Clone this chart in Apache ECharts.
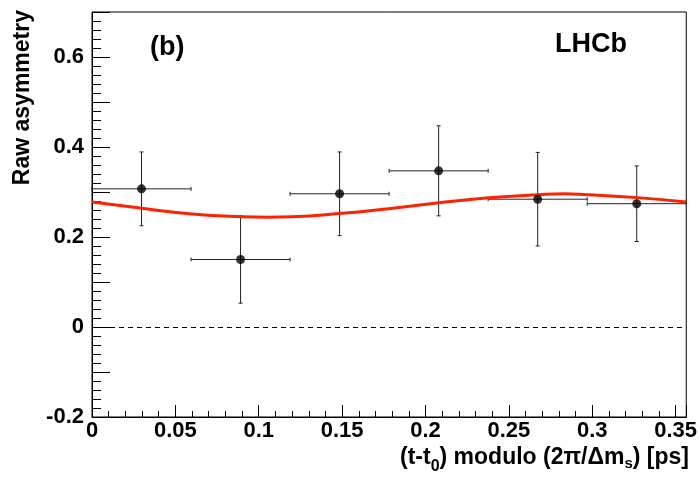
<!DOCTYPE html>
<html>
<head>
<meta charset="utf-8">
<script src="https://cdn.jsdelivr.net/npm/echarts@6/dist/echarts.min.js"></script>
<style>html,body{margin:0;padding:0;background:#fff}#c{width:700px;height:480px}</style>
</head>
<body>
<div id="c"></div>
<script>
// Data
var binCenters = [0.0297, 0.0891, 0.1485, 0.2079, 0.2673, 0.3267];
var binHalfWidth = [0.0297, 0.0297, 0.0297, 0.0297, 0.0297, 0.0297];
var asymValues = [0.307, 0.150, 0.296, 0.347, 0.284, 0.274];
var asymErrors = [0.082, 0.097, 0.093, 0.100, 0.104, 0.084];
var fitX = [0, 0.03, 0.06, 0.09, 0.105, 0.12, 0.148, 0.178, 0.208, 0.238, 0.268, 0.283, 0.297, 0.327, 0.3564];
var fitY = [0.278, 0.264, 0.251, 0.245, 0.244, 0.245, 0.252, 0.263, 0.276, 0.287, 0.294, 0.296, 0.294, 0.2875, 0.278];
var xMin = 0, xMax = 0.3564, yMin = -0.2, yMax = 0.7;
var xTickLabels = ['0', '0.05', '0.1', '0.15', '0.2', '0.25', '0.3', '0.35'];
var yTickLabels = ['-0.2', '0', '0.2', '0.4', '0.6'];

var FONT = '"Liberation Sans", Arial, Helvetica, sans-serif';
var chart = echarts.init(document.getElementById('c'), null, {renderer: 'canvas'});

var pts = binCenters.map(function (x, i) { return [x, asymValues[i], binHalfWidth[i], asymErrors[i]]; });
var fitData = fitX.map(function (x, i) { return [x, fitY[i]]; });

function fmtX(v) {
  var s = String(parseFloat(v.toFixed(4)));
  return xTickLabels.indexOf(s) >= 0 ? s : '';
}
function fmtY(v) {
  var s = String(parseFloat(v.toFixed(4)));
  return yTickLabels.indexOf(s) >= 0 ? s : '';
}

var option = {
  animation: false,
  backgroundColor: '#fff',
  grid: {left: 92, right: 11, top: 12, bottom: 63, show: true, borderColor: '#000', borderWidth: 1, backgroundColor: 'transparent'},
  xAxis: {
    type: 'value', min: xMin, max: xMax, interval: 0.05, position: 'bottom',
    axisLine: {show: true, onZero: false, lineStyle: {color: '#000', width: 1}},
    axisTick: {show: true, inside: true, length: 12, lineStyle: {color: '#000'}},
    minorTick: {show: true, splitNumber: 5, length: 6, lineStyle: {color: '#000'}},
    axisLabel: {formatter: fmtX, showMaxLabel: false, showMinLabel: true, margin: 3, color: '#000', fontFamily: FONT, fontWeight: 'bold', fontSize: 22},
    splitLine: {show: false}
  },
  yAxis: {
    type: 'value', min: yMin, max: yMax, interval: 0.1,
    axisLine: {show: true, onZero: false, lineStyle: {color: '#000', width: 1}},
    axisTick: {show: true, inside: true, length: 18, lineStyle: {color: '#000'}},
    minorTick: {show: true, splitNumber: 5, length: 9, lineStyle: {color: '#000'}},
    axisLabel: {formatter: fmtY, margin: 8, color: '#000', fontFamily: FONT, fontWeight: 'bold', fontSize: 22},
    splitLine: {show: false}
  },
  series: [{
    type: 'custom', z: 2,
    data: pts,
    renderItem: function (params, api) {
      var x = api.value(0), y = api.value(1), dx = api.value(2), dy = api.value(3);
      var l = api.coord([x - dx, y]), r = api.coord([x + dx, y]);
      var t = api.coord([x, y + dy]), b = api.coord([x, y - dy]);
      var st = {stroke: '#222', lineWidth: 1};
      var c = 2;
      return {type: 'group', children: [
        {type: 'line', shape: {x1: l[0], y1: l[1], x2: r[0], y2: r[1]}, style: st},
        {type: 'line', shape: {x1: l[0], y1: l[1] - c, x2: l[0], y2: l[1] + c}, style: st},
        {type: 'line', shape: {x1: r[0], y1: r[1] - c, x2: r[0], y2: r[1] + c}, style: st},
        {type: 'line', shape: {x1: t[0], y1: t[1], x2: b[0], y2: b[1]}, style: st},
        {type: 'line', shape: {x1: t[0] - c, y1: t[1], x2: t[0] + c, y2: t[1]}, style: st},
        {type: 'line', shape: {x1: b[0] - c, y1: b[1], x2: b[0] + c, y2: b[1]}, style: st}
      ]};
    }
  }, {
    type: 'line', z: 3,
    data: fitData, smooth: true, showSymbol: false, symbol: 'none',
    lineStyle: {color: '#ff2200', width: 3},
    markLine: {
      silent: true, symbol: ['none', 'none'], label: {show: false},
      lineStyle: {color: '#000', type: [5, 4], width: 1},
      data: [{yAxis: 0}]
    }
  }, {
    type: 'scatter', z: 4,
    data: pts.map(function (p) { return [p[0], p[1]]; }),
    symbol: 'circle', symbolSize: 9,
    itemStyle: {color: '#000'}
  }],
  graphic: [{
    type: 'text', x: 23, y: 10, rotation: Math.PI / 2,
    style: {text: 'Raw asymmetry', fill: '#000', font: 'bold 23px ' + FONT, align: 'right', verticalAlign: 'middle'}
  }, {
    type: 'text', x: 150, y: 48,
    style: {text: '(b)', fill: '#000', font: 'bold 27px ' + FONT, align: 'left', verticalAlign: 'middle'}
  }, {
    type: 'text', x: 555, y: 45,
    style: {text: 'LHCb', fill: '#000', font: 'bold 27px ' + FONT, align: 'left', verticalAlign: 'middle'}
  }, {
    type: 'text', x: 689, y: 458,
    style: {
      text: '(t-t{s|0}) modulo (2π/Δm{s2|s}) [ps]',
      fill: '#000', font: 'bold 23px ' + FONT, align: 'right', verticalAlign: 'middle',
      rich: {
        s: {font: 'bold 16px ' + FONT, fill: '#000', padding: [18, 0, 0, 0]},
        s2: {font: 'bold 15px ' + FONT, fill: '#000', padding: [12, 0, 0, 0]}
      }
    }
  }]
};
chart.setOption(option);
</script>
</body>
</html>
